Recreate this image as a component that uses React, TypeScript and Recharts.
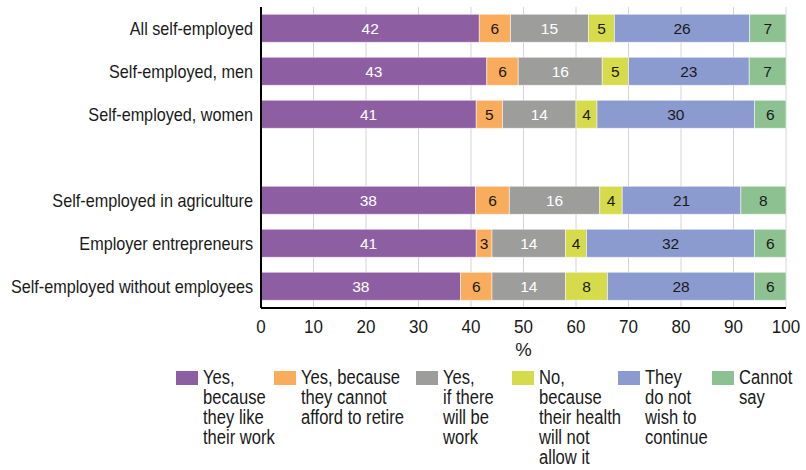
import { Bar, BarChart, CartesianGrid, LabelList, XAxis, YAxis } from "recharts";

// Groups on the category axis; the empty one is the visual gap between the two blocks
const categories = [
  "All self-employed",
  "Self-employed, men",
  "Self-employed, women",
  "",
  "Self-employed in agriculture",
  "Employer entrepreneurs",
  "Self-employed without employees",
];

// Answer shares (%), as printed on the bars
const likeWork = [42, 43, 41, null, 38, 41, 38];
const cannotAfford = [6, 6, 5, null, 6, 3, 6];
const ifWork = [15, 16, 14, null, 16, 14, 14];
const health = [5, 5, 4, null, 4, 4, 8];
const notWish = [26, 23, 30, null, 21, 32, 28];
const cannotSay = [7, 7, 6, null, 8, 6, 6];

const xTicks = [0, 10, 20, 30, 40, 50, 60, 70, 80, 90, 100];

const series = [
  { key: "likeWork", values: likeWork, color: "#8E5EA2", text: "#ffffff", legend: ["Yes,", "because", "they like", "their work"] },
  { key: "cannotAfford", values: cannotAfford, color: "#F9AC5B", text: "#1a1a1a", legend: ["Yes, because", "they cannot", "afford to retire"] },
  { key: "ifWork", values: ifWork, color: "#9D9D9C", text: "#ffffff", legend: ["Yes,", "if there", "will be", "work"] },
  { key: "health", values: health, color: "#D6DB4C", text: "#1a1a1a", legend: ["No,", "because", "their health", "will not", "allow it"] },
  { key: "notWish", values: notWish, color: "#8C9BCF", text: "#1a1a1a", legend: ["They", "do not", "wish to", "continue"] },
  { key: "cannotSay", values: cannotSay, color: "#8DC191", text: "#1a1a1a", legend: ["Cannot", "say"] },
];

const FONT = '"Liberation Sans", Arial, sans-serif';
const INK = "#1a1a1a";
// the original uses a condensed face; squeeze Liberation Sans to match
const SQUEEZE = 0.9;
const LEGEND_LEFT = [176, 274, 416, 512, 618, 712];

const data = categories.map((name, i) => {
  const row: Record<string, string | number | null> = { name };
  series.forEach((s) => {
    row[s.key] = s.values[i];
  });
  return row;
});

function CategoryTick({ x, y, payload }: any) {
  return (
    <g transform={`translate(${x},${y})`}>
      <text
        textAnchor="end"
        dy="0.36em"
        transform={`scale(${SQUEEZE},1)`}
        fontSize={18}
        fontFamily={FONT}
        fill={INK}
      >
        {payload.value}
      </text>
    </g>
  );
}

function ValueTick({ x, y, payload }: any) {
  return (
    <g transform={`translate(${x},${y})`}>
      <text
        textAnchor="middle"
        dy="0.9em"
        transform="scale(0.92,1)"
        fontSize={18.5}
        fontFamily={FONT}
        fill={INK}
      >
        {Math.round(payload.value * 100)}
      </text>
    </g>
  );
}

function ChartLegend() {
  return (
    <>
      {series.map((s, i) => (
        <div
          key={s.key}
          style={{ position: "absolute", left: LEGEND_LEFT[i], top: 367, display: "flex" }}
        >
          <div style={{ width: 22, height: 14, marginTop: 3.5, background: s.color, flex: "none" }} />
          <div
            style={{
              marginLeft: 5,
              fontSize: 19.5,
              lineHeight: "20px",
              color: INK,
              transform: "scaleX(0.85)",
              transformOrigin: "left top",
            }}
          >
            {s.legend.map((line) => (
              <div key={line} style={{ whiteSpace: "nowrap" }}>
                {line}
              </div>
            ))}
          </div>
        </div>
      ))}
    </>
  );
}

export default function App() {
  return (
    <div style={{ position: "relative", width: 806, height: 470, fontFamily: FONT, background: "#fff" }}>
      <style>{"body{margin:0}"}</style>
      <BarChart
        width={806}
        height={470}
        data={data}
        layout="vertical"
        stackOffset="expand"
        barCategoryGap="17%"
        margin={{ top: 7, right: 20, bottom: 102, left: 0 }}
      >
        <CartesianGrid horizontal={false} stroke="#d4d4d4" />
        <XAxis
          type="number"
          domain={[0, 1]}
          ticks={xTicks.map((t) => t / 100)}
          tick={<ValueTick />}
          tickLine={false}
          axisLine={{ stroke: "#000", strokeWidth: 2 }}
          height={60}
          label={{ value: "%", position: "insideBottom", offset: 12, fontSize: 18.5, fill: INK, fontFamily: FONT }}
        />
        <YAxis
          type="category"
          dataKey="name"
          width={261}
          tick={<CategoryTick />}
          tickLine={false}
          axisLine={{ stroke: "#000", strokeWidth: 2 }}
        />
        {series.map((s) => (
          <Bar
            key={s.key}
            dataKey={s.key}
            stackId="a"
            fill={s.color}
            stroke="#ffffff"
            strokeWidth={0.5}
            isAnimationActive={false}
          >
            <LabelList dataKey={s.key} position="center" fill={s.text} fontSize={15.5} fontFamily={FONT} />
          </Bar>
        ))}
      </BarChart>
      <ChartLegend />
    </div>
  );
}
